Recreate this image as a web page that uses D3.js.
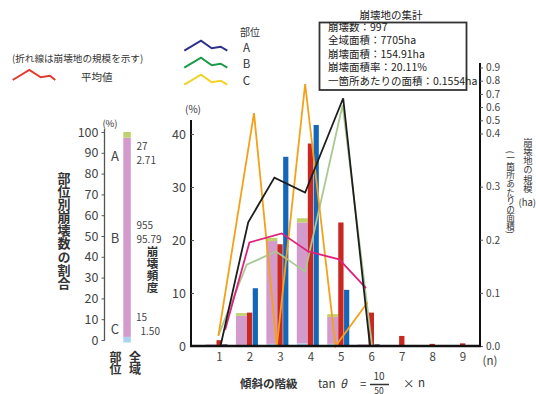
<!DOCTYPE html>
<html><head><meta charset="utf-8">
<script src="https://cdn.jsdelivr.net/npm/d3@7"></script>
<style>
html,body{margin:0;padding:0;background:#fff;}
svg{display:block;}
text{font-family:"Noto Sans CJK JP","Liberation Sans",sans-serif;}
</style></head>
<body>
<svg id="c" width="536" height="394"></svg>
<script>
// ---- data ----
const categories = [1,2,3,4,5,6,7,8,9];
// share of collapses by slope class, stacked by part (C bottom, B middle, A top) (%)
const partC = [0,0.2,0.4,0.5,0.4,0.2,0,0,0];
const partB = [0.3,5.5,19.4,22.8,5.1,0.1,0,0,0];
const partA = [0,0.5,0.6,0.8,0.5,0,0,0,0];
const redBars  = [1.1,6.3,19.2,38.2,23.3,6.3,1.9,0.4,0.5];
const blueBars = [0.3,10.9,35.7,41.7,10.6,0.3,0,0,0];
// scale of collapse (ha per site), lines drawn against the right axis
const avgX   = [1.2,2.0,3.06,3.93,4.95,5.83];
const avgV   = [0.03,0.195,0.212,0.178,0.163,0.109];
const lineAX = [1.05,1.96,2.82,3.83,5.08,5.96];
const lineAV = [0,0.233,0.317,0.289,0.667,0];
const lineBX = [0.98,1.91,2.87,3.83,5.06,6.03];
const lineBV = [0.02,0.153,0.178,0.140,0.616,0];
const lineCX = [0.98,2.15,2.9,3.83,4.83,5.88];
const lineCV = [0.019,0.555,0,0.775,0,0.082];
// whole-area composition bar
const wholeParts = ["C","B","A"];
const wholeValues = [1.50,95.79,2.71];
const wholeCounts = [15,955,27];
const leftTicks = [0,10,20,30,40,50,60,70,80,90,100];
const mainTicks = [0,10,20,30,40];
const rightTicks = [0,0.1,0.2,0.3,0.4,0.5,0.6,0.7,0.8,0.9];
const summaryTitle = "崩壊地の集計";
const summaryLines = ["崩壊数：997","全域面積：7705ha","崩壊面積：154.91ha","崩壊面積率：20.11%","一箇所あたりの面積：0.1554ha"];

const svg = d3.select("#c");
const COL = {pink:"#d39bcb", green:"#bdd16c", lblue:"#a9d3ee", red:"#c8281f", blue:"#1466b8",
  black:"#1e1e1e", lgreen:"#a9c894", magenta:"#e0217c", orange:"#f4a11a"};

// vertical text as a single element; yc = centre of first character, step = distance between characters
function vtext(str, x, yc, step, size, weight, fill){
  svg.append("text").attr("x",x).attr("y",yc-size/2)
    .attr("style",`writing-mode:vertical-rl;text-orientation:mixed;letter-spacing:${(step-size).toFixed(2)}px`)
    .attr("font-size",size).attr("font-weight",weight||"normal").attr("fill",fill||"#333").text(str);
}

// ---- legend ----
svg.append("text").attr("x",12).attr("y",62).attr("font-size",9.6).attr("fill","#333").text("(折れ線は崩壊地の規模を示す)");
const zig = [[0,10],[16.6,0],[28,7.3],[37.3,5.7],[42.6,10]];
const zl = d3.line();
svg.append("path").attr("d",zl(zig.map(p=>[12.7+p[0],70+p[1]]))).attr("fill","none").attr("stroke","#e23a2c").attr("stroke-width",2);
svg.append("text").attr("x",81).attr("y",81).attr("font-size",10.5).attr("fill","#333").text("平均値");
svg.append("text").attr("x",250).attr("y",35.5).attr("font-size",10).attr("text-anchor","middle").attr("fill","#333").text("部位");
const legCols = ["#2d2f8e","#1c9a4c","#f0d324"];
["A","B","C"].forEach((p,i)=>{
  const zig2 = [[0,10],[16.7,0],[27.4,7.6],[36.4,6],[43,10]];
  svg.append("path").attr("d",zl(zig2.map(q=>[184.3+q[0],40.7+i*17+q[1]]))).attr("fill","none").attr("stroke",legCols[i]).attr("stroke-width",2);
  svg.append("text").attr("x",246.5).attr("y",51.5+i*16.7).attr("font-size",11.5).attr("text-anchor","middle").attr("fill","#333").attr("font-family","Liberation Sans").text(p);
});

// ---- summary box ----
svg.append("text").attr("x",391).attr("y",19).attr("font-size",10.5).attr("text-anchor","middle").attr("fill","#222").text(summaryTitle);
svg.append("rect").attr("x",319.5).attr("y",22.5).attr("width",147).attr("height",67.5).attr("fill","#fff").attr("stroke","#333").attr("stroke-width",1.8);
summaryLines.forEach((s,i)=>{
  svg.append("text").attr("x",328).attr("y",31+i*13.4).attr("font-size",10.5).attr("fill","#222").text(s);
});

// ---- left whole-area bar ----
const yS = d3.scaleLinear().domain([0,100]).range([340,132]);
const gL = svg.append("g");
gL.append("line").attr("x1",104.5).attr("x2",104.5).attr("y1",129).attr("y2",340.5).attr("stroke","#555").attr("stroke-width",1.3);
const axL = d3.axisLeft(yS).tickValues(leftTicks).tickSize(3).tickPadding(3);
const gAxL = gL.append("g").attr("transform","translate(104.5,0)").call(axL);
gAxL.select(".domain").remove();
gAxL.selectAll("line").attr("stroke","#555");
gAxL.selectAll("text").attr("font-size",12.5).attr("fill","#444").attr("font-family","Liberation Sans");
svg.append("text").attr("x",110).attr("y",127).attr("font-size",9.5).attr("text-anchor","middle").attr("fill","#333").attr("font-family","Liberation Serif").text("(%)");
const wholeCol = {C:COL.lblue,B:COL.pink,A:COL.green};
let acc = 0;
wholeParts.forEach((p,i)=>{
  const v = wholeValues[i];
  svg.append("rect").attr("x",123.3).attr("width",7.5)
    .attr("y",yS(acc+v)).attr("height",yS(acc)-yS(acc+v)+(i===0?2.5:0)).attr("fill",wholeCol[p]);
  acc += v;
});
const serif = "Liberation Serif";
function st(x,y,s,size,anchor){svg.append("text").attr("x",x).attr("y",y).attr("font-size",size||11.5).attr("fill","#444").attr("font-family",serif).attr("text-anchor",anchor||"start").attr("dominant-baseline","central").text(s);}
function st2(x1,y1,s1,x2,y2,s2){
  const t = svg.append("text").attr("font-size",10).attr("fill","#444").attr("font-family",serif);
  t.append("tspan").attr("x",x1).attr("y",y1).text(s1);
  t.append("tspan").attr("x",x2).attr("y",y2).text(s2);
}
st(115,155,"A",13,"middle"); st(115,237,"B",13,"middle"); st(115,328,"C",13,"middle");
st2(136.5,149.5,String(wholeCounts[2]),136.5,163.5,wholeValues[2].toFixed(2));
st2(136.5,228.5,String(wholeCounts[1]),136.5,242.5,wholeValues[1].toFixed(2));
st2(136,320.5,String(wholeCounts[0]),140.5,334.5,wholeValues[0].toFixed(2));
vtext("部位別崩壊数の割合",64,178,13.1,13,"bold","#333");
vtext("崩壊頻度",152.5,252,11.8,11.5,"bold","#333");
vtext("部位",115.5,357,12.5,12,"bold","#333");
vtext("全域",135,357,12.5,12,"bold","#333");

// ---- main chart ----
const x = d3.scaleLinear().domain([1,9]).range([219,462.5]);
const yM = d3.scaleLinear().domain([0,40]).range([346,134]);
const yR = d3.scaleLinear().domain([0,0.4,0.9]).range([346,133.5,67.5]);
const gM = svg.append("g");

categories.forEach((c,i)=>{
  const parts = [[partC[i],COL.lblue],[partB[i],COL.pink],[partA[i],COL.green]];
  let a = 0;
  parts.forEach(([v,col])=>{
    if(v<=0) return;
    gM.append("rect").attr("x",x(c)-13.5).attr("width",11).attr("y",yM(a+v)).attr("height",yM(a)-yM(a+v)).attr("fill",col);
    a += v;
  });
});
gM.selectAll(".rb").data(categories).join("rect").attr("class","rb")
  .attr("x",c=>x(c)-2.5).attr("width",5.3).attr("y",(c,i)=>yM(redBars[i])).attr("height",(c,i)=>yM(0)-yM(redBars[i])).attr("fill",COL.red);
gM.selectAll(".bb").data(categories).join("rect").attr("class","bb")
  .attr("x",c=>x(c)+3.3).attr("width",5.2).attr("y",(c,i)=>yM(blueBars[i])).attr("height",(c,i)=>yM(0)-yM(blueBars[i])).attr("fill",(c,i)=>blueBars[i]<1?"#1d2b45":COL.blue);

const ln = d3.line().x(d=>x(d[0])).y(d=>yR(d[1]));
function drawLine(xs,vs,col,w){
  gM.append("path").attr("d",ln(xs.map((v,i)=>[v,vs[i]]))).attr("fill","none").attr("stroke",col).attr("stroke-width",w).attr("stroke-linejoin","miter");
}
drawLine(lineBX,lineBV,COL.lgreen,1.8);
drawLine(lineCX,lineCV,COL.orange,1.8);
drawLine(avgX,avgV,COL.magenta,1.8);
drawLine(lineAX,lineAV,COL.black,1.8);

// axes
svg.append("line").attr("x1",191).attr("x2",191).attr("y1",120).attr("y2",347).attr("stroke","#111").attr("stroke-width",2);
const axM = d3.axisLeft(yM).tickValues(mainTicks).tickSizeInner(-3).tickSizeOuter(0).tickPadding(5);
const gAxM = svg.append("g").attr("transform","translate(191,0)").call(axM);
gAxM.select(".domain").remove();
gAxM.selectAll("line").attr("stroke","#555");
gAxM.selectAll("text").attr("font-size",12.5).attr("fill","#444").attr("font-family","Liberation Sans");
svg.append("text").attr("x",193).attr("y",113).attr("font-size",10).attr("text-anchor","middle").attr("fill","#333").attr("font-family",serif).text("(%)");

svg.append("line").attr("x1",480).attr("x2",480).attr("y1",63).attr("y2",347).attr("stroke","#111").attr("stroke-width",2);
const axR = d3.axisRight(yR).tickValues(rightTicks).tickFormat(d3.format(".1f")).tickSize(3).tickPadding(3);
const gAxR = svg.append("g").attr("transform","translate(480,0)").call(axR);
gAxR.select(".domain").remove();
gAxR.selectAll("line").attr("stroke","#555");
gAxR.selectAll("text").attr("font-size",10.2).attr("fill","#444").attr("font-family","Liberation Sans");

svg.append("line").attr("x1",190).attr("x2",481).attr("y1",346).attr("y2",346).attr("stroke","#111").attr("stroke-width",2.5);
const axB = d3.axisBottom(x).tickValues(categories).tickSize(0).tickPadding(6).tickFormat(d3.format("d"));
const gAxB = svg.append("g").attr("transform","translate(0,347)").call(axB);
gAxB.select(".domain").remove();
gAxB.selectAll("text").attr("font-size",11.5).attr("fill","#444").attr("font-family",serif);
svg.append("text").attr("x",490).attr("y",365).attr("font-size",11.5).attr("text-anchor","middle").attr("fill","#444").attr("font-family",serif).text("(n)");

// right titles
vtext("崩壊地の規模",528,142,9.3,9.3,"normal","#333");
svg.append("text").attr("x",518.5).attr("y",206).attr("font-size",9.5).attr("fill","#333").attr("font-family","Liberation Sans").text("(ha)");
vtext("(一箇所あたりの面積)",510.5,155,8.6,8.6,"normal","#333");

// bottom title
svg.append("text").attr("x",240).attr("y",388).attr("font-size",11.5).attr("font-weight","bold").attr("fill","#333").text("傾斜の階級");
svg.append("text").attr("x",318).attr("y",388).attr("font-size",11.5).attr("fill","#333").attr("font-family","Liberation Sans").text("tan");
svg.append("text").attr("x",340).attr("y",388).attr("font-size",11.5).attr("font-style","italic").attr("fill","#333").attr("font-family","Liberation Sans").text("θ");
svg.append("text").attr("x",360).attr("y",388).attr("font-size",11.5).attr("fill","#333").attr("font-family","Liberation Sans").text("=");
svg.append("text").attr("x",379).attr("y",380).attr("font-size",10).attr("text-anchor","middle").attr("fill","#333").attr("font-family","Liberation Sans").text("10");
svg.append("line").attr("x1",370).attr("x2",389).attr("y1",384.5).attr("y2",384.5).attr("stroke","#333").attr("stroke-width",1.5);
svg.append("text").attr("x",379).attr("y",393.5).attr("font-size",8.5).attr("text-anchor","middle").attr("fill","#333").attr("font-family","Liberation Sans").text("50");
svg.append("text").attr("x",403).attr("y",388).attr("font-size",11.5).attr("fill","#333").attr("font-family","Liberation Sans").text("×");
svg.append("text").attr("x",418).attr("y",387).attr("font-size",11.5).attr("fill","#333").attr("font-family",serif).text("n");
</script>
</body></html>
